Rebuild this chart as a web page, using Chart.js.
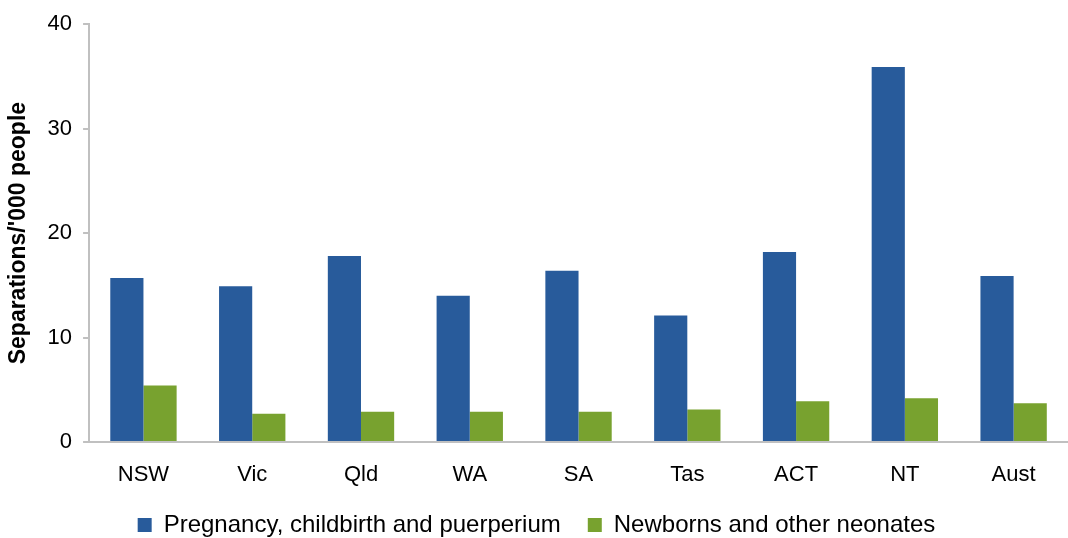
<!DOCTYPE html>
<html>
<head>
<meta charset="utf-8">
<script src="https://cdn.jsdelivr.net/npm/chart.js@4"></script>
<style>
  html, body { margin: 0; padding: 0; background: #fff; }
  #wrap { width: 1068px; height: 538px; }
</style>
</head>
<body>
<div id="wrap"><canvas id="bar-chart" width="1068" height="538"></canvas></div>
<script>
var states = ['NSW', 'Vic', 'Qld', 'WA', 'SA', 'Tas', 'ACT', 'NT', 'Aust'];
var pregnancy = [15.7, 14.9, 17.8, 14.0, 16.4, 12.1, 18.2, 35.9, 15.9];
var newborns = [5.4, 2.7, 2.9, 2.9, 2.9, 3.1, 3.9, 4.2, 3.7];
var yTicks = [0, 10, 20, 30, 40];

Chart.defaults.font.family = '"Liberation Sans", Arial, sans-serif';
Chart.defaults.color = '#000';

var data = {
    labels: states,
    datasets: [{
        label: 'Pregnancy, childbirth and puerperium',
        data: pregnancy,
        backgroundColor: '#285B9B',
        borderWidth: 0
    }, {
        label: 'Newborns and other neonates',
        data: newborns,
        backgroundColor: '#78A22F',
        borderWidth: 0
    }]
};

// legend padding also spaces the items apart, so the bottom padding is
// negative to keep the legend row low on the canvas
var options = {
    responsive: false,
    animation: false,
    layout: { padding: { left: 5, top: 9, right: 0, bottom: -9 } },
    datasets: {
        bar: { categoryPercentage: 0.61, barPercentage: 1.0 }
    },
    plugins: {
        tooltip: { enabled: false },
        legend: {
            position: 'bottom',
            labels: {
                boxWidth: 14,
                boxHeight: 14,
                padding: 27,
                font: { size: 24 }
            }
        }
    },
    scales: {
        x: {
            grid: { display: false, drawTicks: false },
            border: { color: '#c0c0c0', width: 2 },
            ticks: { font: { size: 22 }, padding: 20, maxRotation: 0 },
            afterFit: function (scale) { scale.height = 44; }
        },
        y: {
            min: 0,
            max: 40,
            afterBuildTicks: function (axis) {
                axis.ticks = yTicks.map(function (v) { return { value: v }; });
            },
            grid: { drawOnChartArea: false, drawTicks: true, tickLength: 6, color: '#c0c0c0', lineWidth: 2 },
            border: { color: '#c0c0c0', width: 2 },
            ticks: { font: { size: 22 }, padding: 11 },
            title: {
                display: true,
                text: "Separations/'000 people",
                font: { size: 23, weight: 'bold' },
                padding: { top: 0, bottom: 4 }
            }
        }
    }
};

var ctx = document.getElementById('bar-chart').getContext('2d');
var chart = new Chart(ctx, {
    type: 'bar',
    data: data,
    options: options
});
</script>
</body>
</html>
